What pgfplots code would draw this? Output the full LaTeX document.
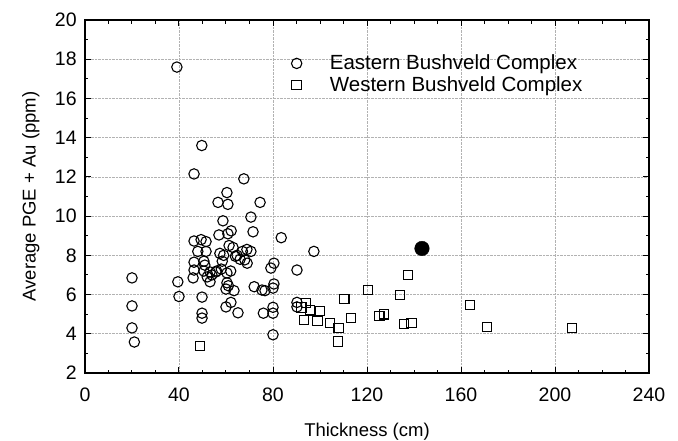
\documentclass[border=0pt]{standalone}
\usepackage{pgfplots}
\pgfplotsset{compat=1.18}
\usepackage{fontspec}
\setmainfont{Liberation Sans}
\begin{document}
\fontsize{18.5}{22}\selectfont
\begin{tikzpicture}
\path[use as bounding box] (-85pt,-67pt) rectangle (593pt,373pt);
\begin{axis}[
  scale only axis,
  width=564pt, height=353pt,
  xmin=0, xmax=240, ymin=2, ymax=20,
  xtick={0,40,...,240}, ytick={2,4,...,20},
  minor x tick num=3, minor y tick num=1,
  tick align=inside,
  major tick length=6pt, minor tick length=3.5pt,
  tick style={black, line width=1pt},
  axis line style={line width=1.2pt},
  /pgf/number format/assume math mode=true,
  ticklabel style={font=\fontsize{19.5}{22}\selectfont},
  xticklabel style={yshift=-9pt},
  yticklabel style={xshift=-2pt},
  label style={font=\fontsize{18.5}{22}\selectfont},
  xlabel={Thickness (cm)},
  ylabel={Average PGE + Au (ppm)},
  xlabel style={yshift=-8pt},
  ylabel style={yshift=3pt},
  grid=major,
  major grid style={black!30, densely dotted, line width=0.6pt},
  legend style={draw=none, fill=none, at={(axis cs:86.5,18.45)}, anchor=north west,
    font=\fontsize{20.5}{24}\selectfont, row sep=0pt},
  legend cell align=left,
]
\addplot[only marks, mark=o, mark size=5.2pt, line width=1.1pt, black] coordinates {
(20,6.85) (20,5.42) (20,4.3) (21,3.58)
(39.1,17.6) (49.7,13.6) (46.4,12.15) (67.6,11.9) (60.4,11.2) (56.6,10.7) (60.8,10.6) (74.5,10.7)
(70.6,9.95) (58.7,9.76) (57,9.04) (60.8,9.1) (62.2,9.25) (71.5,9.2) (83.5,8.9)
(46.4,8.73) (49.4,8.8) (51.5,8.7) (51.5,8.2) (61.3,8.5) (68.9,8.3) (70.6,8.2) (97.4,8.2)
(57.4,8.1) (64.7,8.0) (68,7.77) (58.4,7.7) (46.4,7.65) (50.6,7.7) (80.4,7.6) (79.1,7.35)
(46.4,7.25) (50.6,7.2) (53.2,7.15) (55.7,7.15) (60.4,7.1) (90.2,7.25)
(46,6.85) (39.5,6.65) (53.2,6.65) (60.4,6.6) (80.4,6.54) (72,6.4) (75.3,6.23) (76.6,6.2)
(80,6.33) (60,6.28) (63.4,6.2) (40,5.9) (49.8,5.87) (62.1,5.6) (60,5.37) (65.1,5.07)
(49.8,5.05) (49.8,4.8) (75.9,5.05) (80,5.35) (80,5.05) (80,3.95) (90.2,5.6) (90.2,5.37)
(54,7.0) (56,7.2) (58,7.3) (61,6.45) (62,7.2) (63,8.4) (66,7.8) (67,8.2) (69,7.6) (64,7.95) (48,8.2) (51,7.5) (52,6.9) (59,8.0)
};
\addlegendentry{\hspace*{26pt}Eastern Bushveld Complex}
\addplot[only marks, mark=square, mark size=4.8pt, line width=1.1pt, black] coordinates {
(49,3.38) (94,5.57) (95.7,5.2) (93.2,4.7) (100,5.16) (99,4.66) (104.3,4.55) (108,4.3) (107.7,3.6)
(110.3,5.78) (113.2,4.8) (120.4,6.23) (125.2,4.9) (127.2,5.0) (134,5.98) (135.7,4.5) (139,4.55)
(137.4,7.0) (163.8,5.47) (171,4.35) (207.2,4.3) (92,5.35)
};
\addlegendentry{\hspace*{26pt}Western Bushveld Complex}
\addplot[only marks, mark=*, mark size=7.3pt, black, forget plot] coordinates {(143.4,8.35)};
\end{axis}
\end{tikzpicture}
\end{document}
